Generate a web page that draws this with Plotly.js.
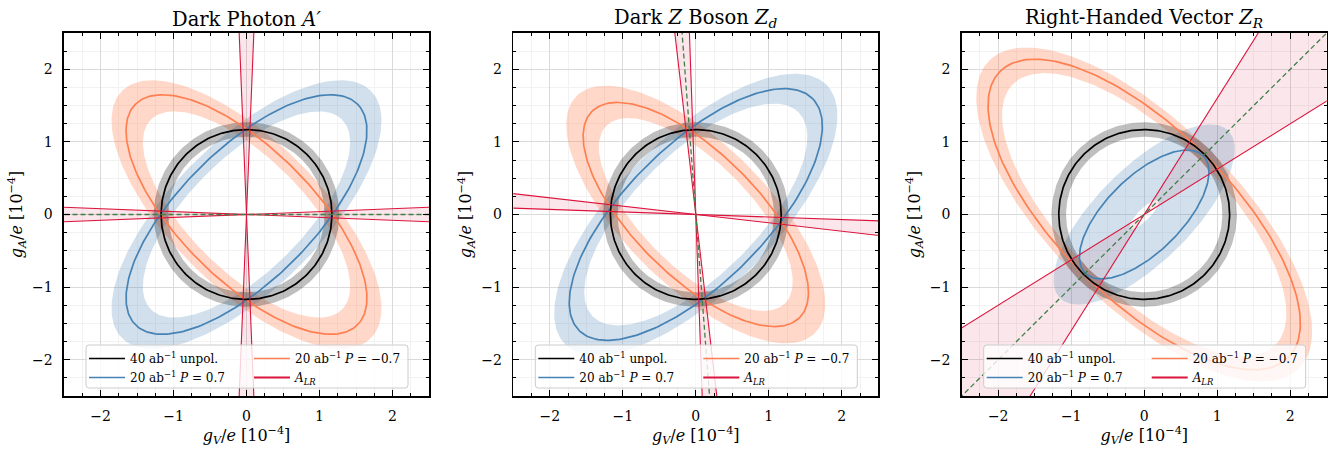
<!DOCTYPE html>
<html><head><meta charset="utf-8">
<script src="https://cdn.plot.ly/plotly-3.0.1.min.js"></script>
<style>html,body{margin:0;padding:0;background:#fff}</style>
</head><body><div id="chart" style="width:1328px;height:454px"></div>
<script>
// ---------------- data ----------------
const panelTitles = ['Dark Photon <i>A′</i>', 'Dark <i>Z</i> Boson <i>Z<sub>d</sub></i>', 'Right-Handed Vector <i>Z<sub>R</sub></i>'];
const seriesNames = ['40 ab<sup>−1</sup> unpol.', '20 ab<sup>−1</sup> <i>P</i> = 0.7', '20 ab<sup>−1</sup> <i>P</i> = −0.7', '<i>A<sub>LR</sub></i>'];
const tickVals = [-2, -1, 0, 1, 2];
const tickText = ['−2', '−1', '0', '1', '2'];

// unpolarised 40 ab^-1 : circle radius and band edges (per panel)
const unpolRadius = [1.17, 1.17, 1.17];
const unpolBandInner = [1.07, 1.07, 1.07];
const unpolBandOuter = [1.27, 1.27, 1.27];

// P = +0.7 ellipse (tilt in degrees, semi-axes) and its band
const posTilt = [45, 45, 45];
const posMajor = [2.15, 2.26, 1.143];
const posMinor = [0.906, 0.95, 0.518];
const posOuterMajor = [2.41, 2.53, 1.63];
const posOuterMinor = [1.015, 1.06, 0.65];
const posInnerMajor = [1.85, 1.99, 0.27];
const posInnerMinor = [0.78, 0.84, 0.08];

// P = -0.7 ellipse and its band
const negTilt = [135, 135, 135];
const negMajor = [2.15, 2.01, 2.79];
const negMinor = [0.906, 0.85, 1.17];
const negOuterMajor = [2.41, 2.31, 3.00];
const negOuterMinor = [1.015, 0.98, 1.26];
const negInnerMajor = [1.85, 1.73, 2.54];
const negInnerMinor = [0.78, 0.73, 1.065];

// A_LR allowed wedges (boundary line directions in degrees) and central line direction
const alrWedges = [[[-2.3, 2.3], [87.7, 92.3]], [[-6.56, -2.0], [92.0, 96.56]], [[32.0, 58.0]]];
const alrCentral = [0, 94.3, 45];

// ---------------- styling ----------------
const FONT = 'DejaVu Serif, Liberation Serif, serif';
const C_BLUE = '#4682b4', C_ORANGE = '#ff7f50', C_CRIMSON = '#dc143c', C_GREEN = '#3f7f47';
const F_BLUE = 'rgba(70,130,180,0.25)', F_ORANGE = 'rgba(255,127,80,0.30)', F_GRAY = 'rgba(0,0,0,0.25)', F_CRIMSON = 'rgba(220,20,60,0.10)';
const N = 240, L = 6;
const W = 1328, H = 454, ML = 64, MR = 1, MT = 33, MB = 58;
const PW = W - ML - MR, PH = H - MT - MB;
const plotLeftPx = [64, 513.3, 961.7];

function ellipse(a, b, tiltDeg, reverse) {
  const phi = tiltDeg * Math.PI / 180, xs = [], ys = [];
  for (let i = 0; i <= N; i++) {
    const t = 2 * Math.PI * (reverse ? (N - i) : i) / N;
    xs.push(a * Math.cos(t) * Math.cos(phi) - b * Math.sin(t) * Math.sin(phi));
    ys.push(a * Math.cos(t) * Math.sin(phi) + b * Math.sin(t) * Math.cos(phi));
  }
  return {x: xs, y: ys};
}
function ring(aOut, bOut, aIn, bIn, tilt) {
  const o = ellipse(aOut, bOut, tilt, false), i = ellipse(aIn, bIn, tilt, true);
  return {x: o.x.concat(i.x), y: o.y.concat(i.y)};
}
function dir(deg) { const r = deg * Math.PI / 180; return [Math.cos(r), Math.sin(r)]; }

const traces = [];
for (let p = 0; p < 3; p++) {
  const xa = p === 0 ? 'x' : 'x' + (p + 1), ya = p === 0 ? 'y' : 'y' + (p + 1);
  const lgA = p === 0 ? 'legend' : 'legend' + (2 * p + 1);
  const lgB = 'legend' + (2 * p + 2);
  const base = {xaxis: xa, yaxis: ya, mode: 'lines', hoverinfo: 'skip', showlegend: false};
  // A_LR wedges fill
  alrWedges[p].forEach(w => {
    const d1 = dir(w[0]), d2 = dir(w[1]);
    traces.push(Object.assign({}, base, {
      x: [0, L * d1[0], L * d2[0], 0, -L * d1[0], -L * d2[0], 0],
      y: [0, L * d1[1], L * d2[1], 0, -L * d1[1], -L * d2[1], 0],
      fill: 'toself', fillcolor: F_CRIMSON, line: {width: 0}
    }));
  });
  // bands
  const bp = ring(posOuterMajor[p], posOuterMinor[p], posInnerMajor[p], posInnerMinor[p], posTilt[p]);
  traces.push(Object.assign({}, base, {x: bp.x, y: bp.y, fill: 'toself', fillcolor: F_BLUE, line: {width: 0}}));
  const bn = ring(negOuterMajor[p], negOuterMinor[p], negInnerMajor[p], negInnerMinor[p], negTilt[p]);
  traces.push(Object.assign({}, base, {x: bn.x, y: bn.y, fill: 'toself', fillcolor: F_ORANGE, line: {width: 0}}));
  const bu = ring(unpolBandOuter[p], unpolBandOuter[p], unpolBandInner[p], unpolBandInner[p], 0);
  traces.push(Object.assign({}, base, {x: bu.x, y: bu.y, fill: 'toself', fillcolor: F_GRAY, line: {width: 0}}));
  // central curves
  const ep = ellipse(posMajor[p], posMinor[p], posTilt[p], false);
  traces.push(Object.assign({}, base, {x: ep.x, y: ep.y, line: {color: C_BLUE, width: 1.7}, name: seriesNames[1], showlegend: true, legend: lgA, legendrank: 2}));
  const en = ellipse(negMajor[p], negMinor[p], negTilt[p], false);
  traces.push(Object.assign({}, base, {x: en.x, y: en.y, line: {color: C_ORANGE, width: 1.7}, name: seriesNames[2], showlegend: true, legend: lgB, legendrank: 1}));
  const eu = ellipse(unpolRadius[p], unpolRadius[p], 0, false);
  traces.push(Object.assign({}, base, {x: eu.x, y: eu.y, line: {color: '#000', width: 1.7}, name: seriesNames[0], showlegend: true, legend: lgA, legendrank: 1}));
  // A_LR boundary lines
  alrWedges[p].forEach(w => {
    w.forEach(a => {
      const d = dir(a);
      traces.push(Object.assign({}, base, {
        x: [-L * d[0], L * d[0]], y: [-L * d[1], L * d[1]],
        line: {color: C_CRIMSON, width: 1.1}
      }));
    });
  });
  // legend entry for A_LR (no drawn points)
  traces.push(Object.assign({}, base, {x: [null], y: [null], line: {color: C_CRIMSON, width: 2},
    name: seriesNames[3], showlegend: true, legend: lgB, legendrank: 2}));
  // central A_LR dashed line
  const dc = dir(alrCentral[p]);
  traces.push(Object.assign({}, base, {
    x: [-L * dc[0], L * dc[0]], y: [-L * dc[1], L * dc[1]],
    line: {color: C_GREEN, width: 1.3, dash: '5px,3px'}
  }));
}

// ---------------- layout ----------------
const axBase = {
  range: [-2.5, 2.5], autorange: false, tickmode: 'array', tickvals: tickVals, ticktext: tickText,
  ticks: 'inside', ticklen: 6, tickwidth: 1, tickcolor: '#000', mirror: 'allticks',
  showline: true, linecolor: '#000', linewidth: 1.6, showgrid: true, gridcolor: '#dadada', gridwidth: 1,
  zeroline: false, ticklabelstandoff: 7,
  minor: {tickmode: 'linear', tick0: 0, dtick: 0.25, ticks: 'inside', ticklen: 3, tickcolor: '#000', showgrid: true, gridcolor: '#f2f2f2', gridwidth: 1},
  tickfont: {family: FONT, size: 14, color: '#000'}, fixedrange: true
};
const X = px => (px - ML) / PW, Y = py => (H - MB - py) / PH;
const layout = {
  width: W, height: H, margin: {l: ML, r: MR, t: MT, b: MB},
  paper_bgcolor: '#fff', plot_bgcolor: '#fff', hovermode: false,
  font: {family: FONT, color: '#000'},
  annotations: [], shapes: []
};
for (let p = 0; p < 3; p++) {
  const sx = p === 0 ? '' : String(p + 1);
  const lp = plotLeftPx[p];
  const d0 = X(lp), d1 = X(lp + 365);
  layout['xaxis' + sx] = Object.assign({}, axBase, {domain: [d0, Math.min(1, d1)], anchor: 'y' + sx,
    title: {text: '<i>g<sub>V</sub></i>/<i>e</i> [10<sup>−4</sup>]', font: {family: FONT, size: 16}, standoff: 5}});
  layout['yaxis' + sx] = Object.assign({}, axBase, {domain: [0, 1], anchor: 'x' + sx,
    title: {text: '<i>g<sub>A</sub></i>/<i>e</i> [10<sup>−4</sup>]', font: {family: FONT, size: 16}, standoff: 5}});
  layout.annotations.push({xref: 'paper', yref: 'paper', x: (d0 + Math.min(1, d1)) / 2, y: 1, xanchor: 'center', yanchor: 'bottom',
    yshift: 0, showarrow: false, text: panelTitles[p], font: {family: FONT, size: 19.5, color: '#000'}});
  // legend box
  const bx0 = lp + 22, bx1 = lp + 344, by0 = 345, by1 = 388, r = 3;
  const rx = r / PW, ry = r / PH;
  const x0 = X(bx0), x1 = X(bx1), y0 = Y(by1), y1 = Y(by0);
  layout.shapes.push({type: 'path', xref: 'paper', yref: 'paper', layer: 'above',
    path: `M${x0 + rx},${y0} L${x1 - rx},${y0} Q${x1},${y0} ${x1},${y0 + ry} L${x1},${y1 - ry} Q${x1},${y1} ${x1 - rx},${y1} L${x0 + rx},${y1} Q${x0},${y1} ${x0},${y1 - ry} L${x0},${y0 + ry} Q${x0},${y0} ${x0 + rx},${y0} Z`,
    fillcolor: 'rgba(255,255,255,0.8)', line: {color: '#cccccc', width: 1}});
  const lg = {xanchor: 'left', yanchor: 'top', y: Y(344), bgcolor: 'rgba(0,0,0,0)', borderwidth: 0, itemwidth: 36,
    font: {family: FONT, size: 12, color: '#000'}, orientation: 'v', tracegroupgap: 0, itemclick: false, itemdoubleclick: false};
  const nA = p === 0 ? 'legend' : 'legend' + (2 * p + 1), nB = 'legend' + (2 * p + 2);
  layout[nA] = Object.assign({}, lg, {x: X(lp + 20)});
  layout[nB] = Object.assign({}, lg, {x: X(lp + 185)});
}
Plotly.newPlot('chart', traces, layout, {staticPlot: true, displayModeBar: false});
</script></body></html>
